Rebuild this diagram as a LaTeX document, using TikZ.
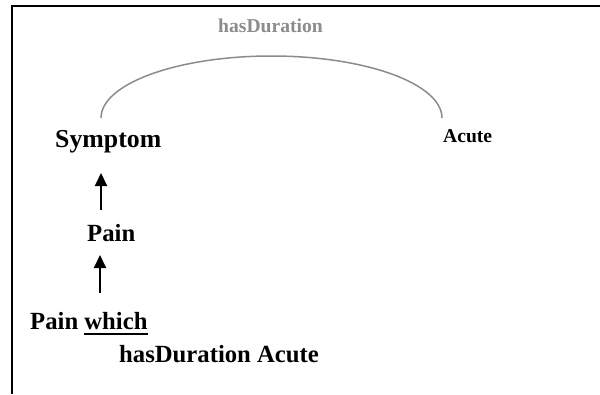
\documentclass[tikz,border=0pt]{standalone}
\usepackage{fontspec}
\setmainfont{Liberation Serif}
\usetikzlibrary{arrows.meta}
\definecolor{relgray}{RGB}{140,140,140}
\newcommand\myuline[1]{\setbox0\hbox{#1}\rlap{\raisebox{-6pt}{\rule{\wd0}{2pt}}}\box0}
\tikzset{
  lbl/.style={inner sep=0pt, anchor=base west, font=\bfseries\fontsize{24.7}{28}\selectfont},
  small/.style={inner sep=0pt, anchor=base west, font=\bfseries\fontsize{19.6}{23}\selectfont},
  arr/.style={line width=2pt, -{Triangle[width=12pt,length=13pt]}},
  rel/.style={draw=relgray, line width=1.5pt}
}
\begin{document}
\begin{tikzpicture}[x=1pt,y=-1pt]
\useasboundingbox (0,0) rectangle (600,394);
\fill[white] (0,0) rectangle (600,394);
% frame
\draw[line width=2pt] (12,394) -- (12,6) -- (600,6);
% nodes
\node[small, text=relgray] (hasdur) at (218,32) {hasDuration};
\node[lbl, font=\bfseries\fontsize{25.8}{29}\selectfont] (symptom) at (55,147) {Symptom};
\node[small] (acute) at (443,142) {Acute};
\node[lbl] (pain) at (87,241.7) {Pain};
\node[lbl] (painwhich) at (30,329.3) {Pain \myuline{which}};
\node[lbl] (hda) at (119,362.7) {hasDuration Acute};
% arc
\coordinate (arcL) at (101,118);
\coordinate (arcR) at (442,118);
\draw[rel] (arcL) arc[start angle=180, end angle=360, x radius=170.5, y radius=62];
% arrows
\coordinate (a1s) at (101,210);
\coordinate (a1e) at (101,173);
\coordinate (a2s) at (100,293);
\coordinate (a2e) at (100,255);
\draw[arr] (a1s) -- (a1e);
\draw[arr] (a2s) -- (a2e);
\end{tikzpicture}
\end{document}
